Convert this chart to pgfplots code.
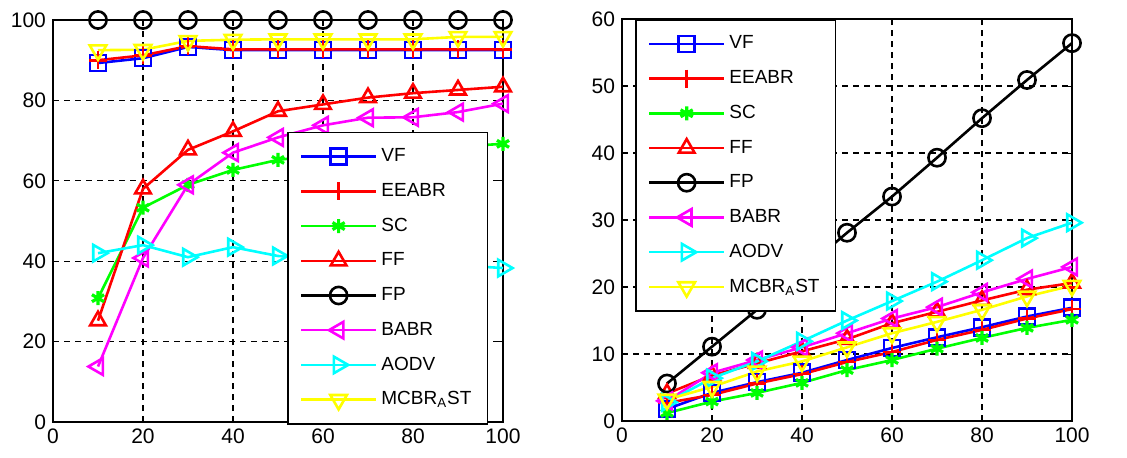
\documentclass[border=0pt]{standalone}
\usepackage{fontspec}
\setmainfont{Liberation Sans}
\usepackage{pgfplots}
\pgfplotsset{compat=1.18}
\definecolor{mblue}{RGB}{0,0,255}
\definecolor{mred}{RGB}{255,0,0}
\definecolor{mgreen}{RGB}{0,255,0}
\definecolor{mmag}{RGB}{255,0,255}
\definecolor{mcyan}{RGB}{0,255,255}
\definecolor{myellow}{RGB}{255,255,0}
\pgfplotsset{mystyle/.style={
  width=225pt,height=201pt,scale only axis,
  xmin=0,xmax=100,xtick={0,20,...,100},
  grid=major,
  grid style={dash pattern=on 3pt off 2.5pt, line width=0.55pt, black},
  axis line style={line width=0.8pt},
  tick align=inside, major tick length=2.5pt,
  tick style={black, line width=0.5pt},
  tick label style={font=\fontsize{10.5}{12}\selectfont},
  /pgf/number format/assume math mode=true,
  clip=false,
  legend cell align=left,
  legend image code/.code={\draw[mark repeat=2,mark phase=2] plot coordinates {(0pt,0pt) (18.75pt,0pt) (37.5pt,0pt)};},
  legend style={draw=black, line width=0.8pt, fill=white,
    font=\fontsize{9.5}{11}\selectfont, row sep=5.3pt,
    inner xsep=6pt, inner ysep=6pt, cells={anchor=west}},
  every axis plot/.append style={line width=1.3pt, mark size=4pt},
},
VF/.style={color=mblue, mark=square, mark options={solid}},
EE/.style={color=mred, mark=+, mark options={solid}, mark size=4.5pt},
SC/.style={color=mgreen, mark=asterisk, mark options={solid, line width=1.6pt}, mark size=3.5pt},
FF/.style={color=mred, mark=triangle, mark options={solid}, mark size=4.5pt},
FP/.style={color=black, mark=o, mark options={solid}, mark size=4.3pt},
BA/.style={color=mmag, mark=triangle, mark options={solid, rotate=90}, mark size=4.8pt},
AO/.style={color=mcyan, mark=triangle, mark options={solid, rotate=-90}, mark size=4.8pt},
MC/.style={color=myellow, mark=triangle, mark options={solid, rotate=180}, mark size=4.8pt},
}
\begin{document}
\begin{tikzpicture}[x=1pt,y=1pt]
\useasboundingbox (-26.5,-17.5) rectangle (537,211);
\begin{axis}[mystyle, at={(0pt,0pt)}, anchor=south west,
  ymin=0, ymax=100, ytick={0,20,...,100},
  legend style={at={(0.52,0.722)}, anchor=north west}]
\addplot[VF] coordinates {(10,89.3) (20,90.5) (30,93.3) (40,92.5) (50,92.5) (60,92.5) (70,92.5) (80,92.5) (90,92.5) (100,92.5)};
\addplot[EE] coordinates {(10,90) (20,91.2) (30,93.5) (40,92.7) (50,92.7) (60,92.7) (70,92.7) (80,92.7) (90,92.7) (100,92.7)};
\addplot[SC] coordinates {(10,30.8) (20,53.3) (30,59) (40,62.7) (50,65.2) (60,66.5) (70,67.3) (80,68) (90,68.5) (100,69.2)};
\addplot[FF] coordinates {(10,25.2) (20,58) (30,67.7) (40,72.3) (50,77.3) (60,79) (70,80.7) (80,81.8) (90,82.6) (100,83.4)};
\addplot[FP] coordinates {(10,100) (20,100) (30,100) (40,100) (50,100) (60,100) (70,100) (80,100) (90,100) (100,100)};
\addplot[BA] coordinates {(10,13.8) (20,40.8) (30,59) (40,67) (50,70.8) (60,73.8) (70,75.7) (80,75.8) (90,77.1) (100,79.2)};
\addplot[AO] coordinates {(10,42) (20,44) (30,41) (40,43.5) (50,41.3) (60,40.5) (70,40) (80,39.5) (90,39) (100,38.3)};
\addplot[MC] coordinates {(10,92.5) (20,92.6) (30,94.8) (40,95.1) (50,95.2) (60,95.2) (70,95.2) (80,95.2) (90,95.8) (100,95.8)};
\legend{VF,EEABR,SC,FF,FP,BABR,AODV,MCBR\textsubscript{A}ST}
\end{axis}
\begin{axis}[mystyle, at={(284.5pt,0.5pt)}, anchor=south west,
  ymin=0, ymax=60, ytick={0,10,...,60},
  legend style={at={(0.029,1)}, anchor=north west}]
\addplot[VF] coordinates {(10,1.8) (20,4.2) (30,5.8) (40,7.2) (50,9.1) (60,10.9) (70,12.5) (80,14) (90,15.6) (100,16.9)};
\addplot[EE] coordinates {(10,2.7) (20,3.9) (30,5.6) (40,7) (50,8.8) (60,10.3) (70,12.1) (80,13.6) (90,15.3) (100,16.7)};
\addplot[SC] coordinates {(10,1.2) (20,2.9) (30,4.2) (40,5.7) (50,7.6) (60,9.1) (70,10.8) (80,12.4) (90,13.9) (100,15.1)};
\addplot[FF] coordinates {(10,4.1) (20,6.8) (30,8.6) (40,10.4) (50,12.2) (60,14.6) (70,16.3) (80,18) (90,19.6) (100,20.6)};
\addplot[FP] coordinates {(10,5.6) (20,11.1) (30,16.6) (40,22.4) (50,28.1) (60,33.5) (70,39.3) (80,45.2) (90,50.9) (100,56.4)};
\addplot[BA] coordinates {(10,3) (20,7.2) (30,9.1) (40,11) (50,13.1) (60,15.3) (70,17) (80,19.2) (90,21.2) (100,23)};
\addplot[AO] coordinates {(10,2.8) (20,6.4) (30,8.9) (40,11.9) (50,15) (60,17.9) (70,20.8) (80,24) (90,27.3) (100,29.6)};
\addplot[MC] coordinates {(10,3.2) (20,5.1) (30,7.4) (40,8.9) (50,11) (60,13.1) (70,14.8) (80,16.6) (90,18.6) (100,20.2)};
\legend{VF,EEABR,SC,FF,FP,BABR,AODV,MCBR\textsubscript{A}ST}
\end{axis}
\end{tikzpicture}
\end{document}
